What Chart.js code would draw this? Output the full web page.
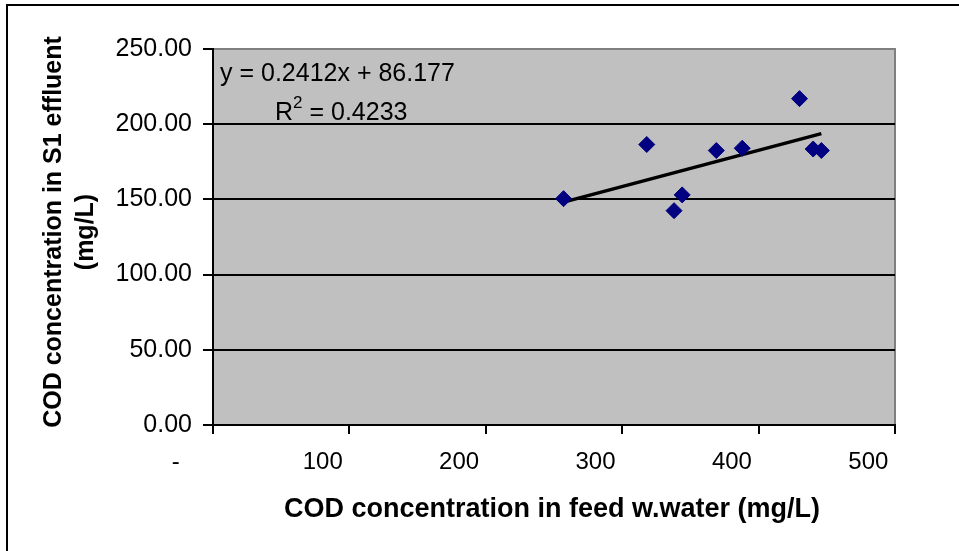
<!DOCTYPE html>
<html>
<head>
<meta charset="utf-8">
<script src="https://cdn.jsdelivr.net/npm/chart.js@4/dist/chart.umd.min.js"></script>
<style>
  html, body { margin: 0; padding: 0; background: #fff; }
  #wrap { width: 959px; height: 551px; position: relative; }
</style>
</head>
<body>
<div id="wrap"><canvas id="chart"></canvas></div>
<script>
// data
var feedCOD = [257, 318, 338, 344, 369, 388, 430, 440, 446];
var effluentCOD = [150.5, 186.5, 142.5, 153, 182.5, 184, 217, 183.5, 182.5];

// trendline as printed on the chart
var trendSlope = 0.2412;
var trendIntercept = 86.177;
var trendLabel = 'y = 0.2412x + 86.177';
var r2Label = '0.4233';

var xTitle = 'COD concentration in feed w.water (mg/L)';
var yTitle = ['COD concentration in S1 effluent', '(mg/L)'];

var FONT = 'Arial, "Liberation Sans", sans-serif';

var points = feedCOD.map(function (x, i) { return {x: x, y: effluentCOD[i]}; });
var xMin = Math.min.apply(null, feedCOD);
var xMax = Math.max.apply(null, feedCOD);
var trend = [
    {x: xMin, y: trendSlope * xMin + trendIntercept},
    {x: xMax, y: trendSlope * xMax + trendIntercept}
];

// frame, titles and equation
var decor = {
    id: 'decor',
    beforeDraw: function (chart) {
        var ctx = chart.ctx;
        var a = chart.chartArea;
        ctx.save();
        ctx.fillStyle = '#c0c0c0';
        ctx.fillRect(a.left, a.top, a.right - a.left, a.bottom - a.top);
        ctx.strokeStyle = '#808080';
        ctx.lineWidth = 2;
        ctx.beginPath();
        ctx.moveTo(a.left, a.top);
        ctx.lineTo(a.right, a.top);
        ctx.lineTo(a.right, a.bottom);
        ctx.stroke();
        ctx.strokeStyle = '#000';
        ctx.strokeRect(7, 5, 1000, 1000);
        ctx.restore();
    },
    afterDraw: function (chart) {
        var ctx = chart.ctx;
        ctx.save();
        ctx.fillStyle = '#000';
        ctx.textBaseline = 'middle';

        // x title
        ctx.font = 'bold 27px ' + FONT;
        ctx.textAlign = 'center';
        ctx.fillText(xTitle, 552, 510);

        // y title
        ctx.save();
        ctx.translate(54, 232);
        ctx.rotate(-Math.PI / 2);
        ctx.font = 'bold 25px ' + FONT;
        ctx.fillText(yTitle[0], 0, 0);
        ctx.fillText(yTitle[1], 0, 32);
        ctx.restore();

        // equation
        ctx.font = '25px ' + FONT;
        ctx.textAlign = 'left';
        ctx.fillText(trendLabel, 220, 74);
        var x = 275;
        ctx.fillText('R', x, 113);
        x += ctx.measureText('R').width;
        ctx.font = '17px ' + FONT;
        ctx.fillText('2', x, 103);
        x += ctx.measureText('2').width;
        ctx.font = '25px ' + FONT;
        ctx.fillText(' = ' + r2Label, x, 113);
        ctx.restore();
    }
};

new Chart(document.getElementById('chart'), {
    type: 'scatter',
    data: {
        datasets: [{
            label: 'COD',
            data: points,
            pointStyle: 'rectRot',
            pointRadius: 8,
            pointBackgroundColor: '#000080',
            pointBorderColor: '#000080',
            pointBorderWidth: 1,
            order: 1
        }, {
            type: 'line',
            label: 'Linear',
            data: trend,
            borderColor: '#000',
            borderWidth: 3.5,
            pointRadius: 0,
            fill: false,
            order: 2
        }]
    },
    options: {
        responsive: true,
        maintainAspectRatio: false,
        animation: false,
        layout: {padding: {top: 49, right: 64, left: 0, bottom: 0}},
        plugins: {legend: {display: false}, tooltip: {enabled: false}},
        scales: {
            x: {
                type: 'linear',
                min: 0,
                max: 500,
                afterFit: function (scale) { scale.height = 126; },
                ticks: {
                    stepSize: 100,
                    autoSkip: false,
                    maxRotation: 0,
                    align: 'end',
                    padding: 14,
                    color: '#000',
                    font: {family: FONT, size: 24},
                    callback: function (v) { return v === 0 ? '-     ' : String(v) + ' '; }
                },
                grid: {drawOnChartArea: false, drawTicks: true, tickLength: 9, tickColor: '#000', lineWidth: 2},
                border: {color: '#000', width: 2}
            },
            y: {
                min: 0,
                max: 250,
                afterFit: function (scale) { scale.width = 213; },
                ticks: {
                    stepSize: 50,
                    padding: 11,
                    color: '#000',
                    font: {family: FONT, size: 25},
                    callback: function (v) { return v.toFixed(2); }
                },
                grid: {
                    color: function (c) { return c.tick && c.tick.value === 250 ? 'rgba(0,0,0,0)' : '#000'; },
                    tickColor: '#000',
                    tickLength: 10,
                    lineWidth: 2
                },
                border: {color: '#000', width: 2}
            }
        }
    },
    plugins: [decor]
});
</script>
</body>
</html>
